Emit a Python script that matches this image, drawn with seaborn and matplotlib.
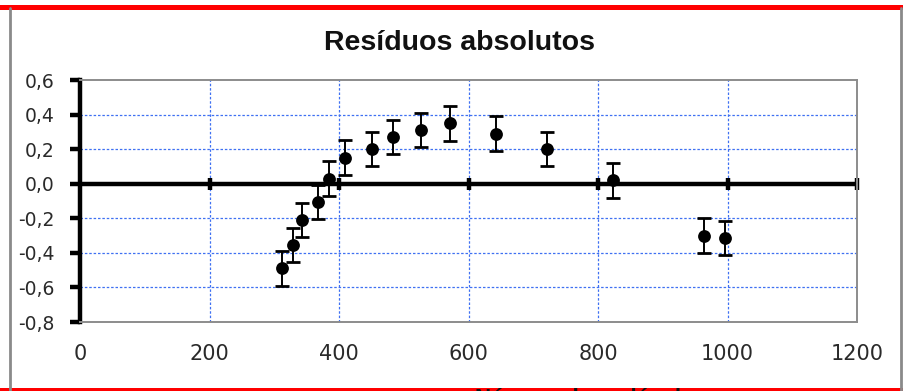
import numpy as np
import pandas as pd
import matplotlib
matplotlib.use("Agg")
import matplotlib.pyplot as plt
import seaborn as sns
from matplotlib.lines import Line2D
from matplotlib.patches import Rectangle
from matplotlib.ticker import FuncFormatter

# Residual data
x_vals = [312, 329, 343, 368, 385, 409, 451, 484, 527, 571, 642, 721, 823, 964, 996]
residuals = [-0.49, -0.355, -0.21, -0.105, 0.03, 0.15, 0.20, 0.27, 0.31, 0.35, 0.29, 0.20, 0.02, -0.30, -0.315]
errors = [0.1] * len(x_vals)
x_ticks = [0, 200, 400, 600, 800, 1000, 1200]
y_ticks = [-0.8, -0.6, -0.4, -0.2, 0.0, 0.2, 0.4, 0.6]

df = pd.DataFrame({"x": x_vals, "res": residuals, "err": errors})

sns.set_theme(style="white")
plt.rcParams["font.family"] = ["Liberation Sans", "DejaVu Sans"]

W, H = 904, 391
fig = plt.figure(figsize=(W / 100, H / 100), dpi=100)
fig.patch.set_facecolor("white")

ax = fig.add_axes([80 / W, (H - 322) / H, (857 - 80) / W, (322 - 80) / H])
ax.set_xlim(0, 1200)
ax.set_ylim(-0.8, 0.6)

# grid
grid_col = "#3f70f2"
for xv in x_ticks[1:-1]:
    ax.axvline(xv, color=grid_col, lw=0.9, ls=(0, (2, 1.5)), zorder=1)
for yv in y_ticks[1:-1]:
    if yv != 0.0:
        ax.axhline(yv, color=grid_col, lw=0.9, ls=(0, (2, 1.5)), zorder=1)

# zero axis with tick marks
ax.axhline(0.0, color="black", lw=3.2, zorder=2)
ax.plot(x_ticks[1:], [0.0] * len(x_ticks[1:]), ls="none", marker="|", ms=9, mew=3.2,
        color="black", zorder=2, clip_on=False)

# error bars and points
ax.errorbar(df["x"], df["res"], yerr=df["err"], fmt="none", ecolor="black",
            elinewidth=1.4, capsize=5, capthick=2.0, zorder=3)
sns.scatterplot(data=df, x="x", y="res", ax=ax, color="black", s=85,
                edgecolor="black", linewidth=0, zorder=4, legend=False)

# spines
for side in ["top", "right", "bottom"]:
    ax.spines[side].set_color("#8c8c8c")
    ax.spines[side].set_linewidth(1.4)
ax.spines["left"].set_color("black")
ax.spines["left"].set_linewidth(3.2)

ax.set_xticks(x_ticks)
ax.set_yticks(y_ticks)
ax.yaxis.set_major_formatter(FuncFormatter(lambda v, p: f"{v:.1f}".replace(".", ",")))
ax.tick_params(axis="y", direction="out", length=7, width=3.2, color="black",
               labelsize=13.5, labelcolor="#2a2a2a", pad=11, left=True)
ax.tick_params(axis="x", length=0, labelsize=15, labelcolor="#2a2a2a", pad=16)
for lab in ax.get_xticklabels() + ax.get_yticklabels():
    lab.set_family(["DejaVu Sans"])
ax.set_xlabel("")
ax.set_ylabel("")

fig.text(460 / W, 1 - 43 / H, "Resíduos absolutos", ha="center", va="center",
         fontsize=20.5, fontweight="bold", color="#111111")

# axis title, cut by the frame
fig.text(590 / W, 1 - 398 / H, "Número de moléculas", ha="center", va="center",
         fontsize=16, fontweight="bold", color="#111111")

# chart frame
fig.add_artist(Line2D([10 / W, 10 / W], [0, 1 - 8 / H], transform=fig.transFigure,
                      color="#8a8a8a", lw=2))
fig.add_artist(Line2D([901 / W, 901 / W], [0, 1 - 8 / H], transform=fig.transFigure,
                      color="#8a8a8a", lw=2))
fig.add_artist(Rectangle((0, 1 - 10 / H), 1, 5 / H, transform=fig.transFigure,
                         color="#ff0000", lw=0))
fig.add_artist(Rectangle((0, 0), 1, 3 / H, transform=fig.transFigure,
                         color="#ff0000", lw=0))

fig.savefig("out.png", dpi=100)
